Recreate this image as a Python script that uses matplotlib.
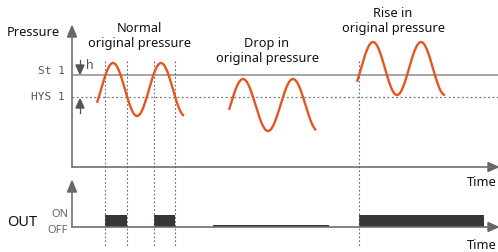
import numpy as np
import matplotlib
matplotlib.use("Agg")
import matplotlib.pyplot as plt
from matplotlib.patches import Rectangle

# pixel-space diagram (y grows downwards)
W, H = 498, 253

# reference levels
st1_y = 76
hys1_y = 98

# sine segments: x start, x end, x of first peak, centre, amplitude, period
wave_start = [97, 229, 357]
wave_end = [184, 316, 445]
wave_peak = [113, 243, 373]
wave_center = [90.5, 106, 69.5]
wave_amp = [26.5, 26, 26.5]
wave_period = [48, 50, 48]

# switching instants (dotted guides)
switch_x = [105, 127, 154, 175, 359]

# output bars: x0, x1, level ('on' or 'off')
out_x0 = [105, 154, 213, 359]
out_x1 = [127, 175, 329, 484]
out_state = ['on', 'on', 'off', 'on']

titles = ["Normal\noriginal pressure", "Drop in\noriginal pressure", "Rise in\noriginal pressure"]
title_x = [139, 267, 393]
title_y = [36, 51, 21]

plt.rcParams['font.family'] = ['Noto Sans', 'DejaVu Sans']

fig = plt.figure(figsize=(W / 100, H / 100), dpi=100)
ax = fig.add_axes([0, 0, 1, 1])
ax.set_xlim(0, W)
ax.set_ylim(H, 0)
ax.axis('off')

axis_c = '#707070'
wave_c = '#e8541e'
bar_c = '#3b3636'
txt_c = '#111111'

# top axes
ax.plot([72, 72], [36, 168], color=axis_c, lw=1.2)
ax.plot([72, 490], [168, 168], color=axis_c, lw=1.2)
ax.add_patch(plt.Polygon([[67.5, 38], [76.5, 38], [72, 27]], color='#666666'))
ax.add_patch(plt.Polygon([[488, 163.5], [488, 172.5], [498, 168]], color='#666666'))

# bottom axes
ax.plot([72, 72], [190, 228], color=axis_c, lw=1.2)
ax.plot([72, 490], [228, 228], color=axis_c, lw=1.2)
ax.add_patch(plt.Polygon([[67.5, 193], [76.5, 193], [72, 182]], color='#666666'))
ax.add_patch(plt.Polygon([[488, 223.5], [488, 232.5], [498, 228]], color='#666666'))

# set point and hysteresis levels
ax.plot([72, W], [st1_y, st1_y], color='#8a8a8a', lw=1.1)
ax.plot([72, W], [hys1_y, hys1_y], color='#777777', lw=0.9, ls=(0, (1.5, 2)))

# h arrows
ax.add_patch(plt.Polygon([[76, 66], [84, 66], [80, 75]], color='#555555'))
ax.plot([80, 80], [61, 67], color='#555555', lw=0.9)
ax.add_patch(plt.Polygon([[76, 109], [84, 109], [80, 100]], color='#555555'))
ax.plot([80, 80], [108, 114], color='#555555', lw=0.9)
ax.text(86, 65, 'h', fontsize=9, color='#555555', va='center', ha='left')

# dotted guides
for x in switch_x:
    ax.plot([x, x], [62, 248], color='#666666', lw=0.8, ls=(0, (1.5, 2)))

# pressure waves
for x0, x1, xp, c, a, p in zip(wave_start, wave_end, wave_peak, wave_center, wave_amp, wave_period):
    xs = np.linspace(x0, x1, 200)
    ys = c - a * np.cos(2 * np.pi * (xs - xp) / p)
    ax.plot(xs, ys, color=wave_c, lw=1.7, solid_capstyle='butt')

# output bars
for x0, x1, s in zip(out_x0, out_x1, out_state):
    top = 216 if s == 'on' else 226
    ax.add_patch(Rectangle((x0, top), x1 - x0, 228 - top, color=bar_c, lw=0))

# texts
ax.text(7, 32, 'Pressure', fontsize=9.2, color=txt_c, va='center', ha='left')
ax.text(65, 71, 'St 1', fontsize=8, color='#555555', va='center', ha='right',
        family='DejaVu Sans Mono')
ax.text(65, 97, 'HYS 1', fontsize=8, color='#555555', va='center', ha='right',
        family='DejaVu Sans Mono')
for t, x, y in zip(titles, title_x, title_y):
    ax.text(x, y, t, fontsize=9.2, color=txt_c, ha='center', va='center', linespacing=1.2)
ax.text(497, 182, 'Time', fontsize=9.2, color=txt_c, ha='right', va='center')
ax.text(497, 246, 'Time', fontsize=9.2, color=txt_c, ha='right', va='center')
ax.text(7, 223, 'OUT', fontsize=10.5, color=txt_c, ha='left', va='center')
ax.text(68, 215, 'ON', fontsize=8, color='#666666', ha='right', va='center')
ax.text(68, 231, 'OFF', fontsize=8, color='#666666', ha='right', va='center')

fig.savefig('out.png', dpi=100)
